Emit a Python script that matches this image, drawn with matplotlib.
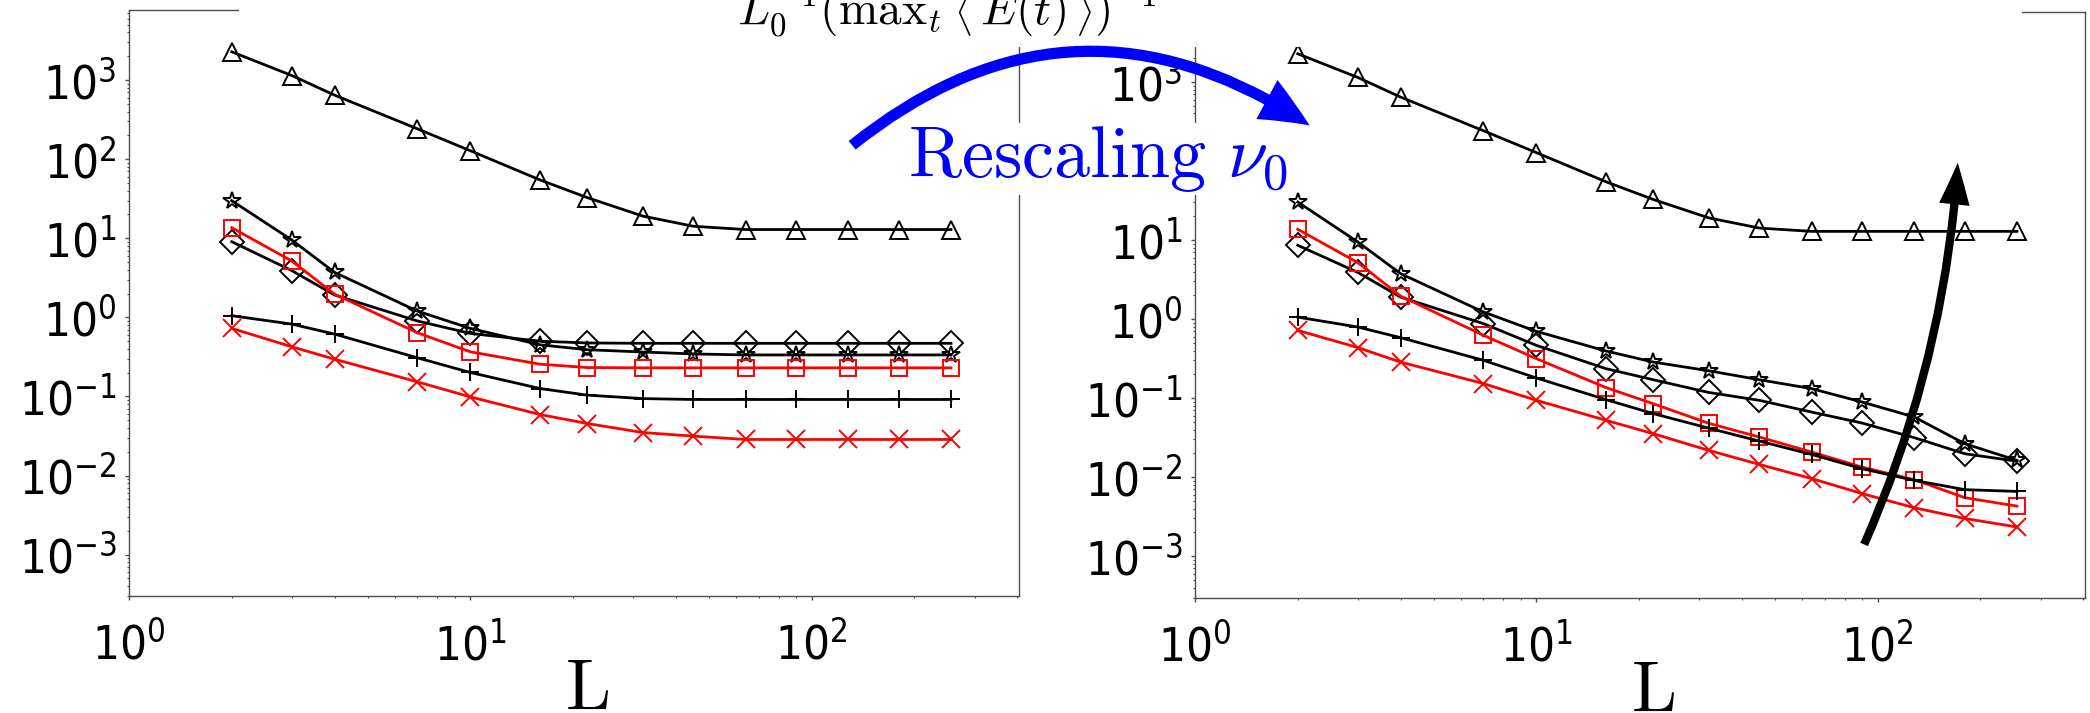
import matplotlib
matplotlib.use("Agg")
import matplotlib.pyplot as plt
from matplotlib.patches import FancyArrowPatch, Rectangle, ArrowStyle
from matplotlib.ticker import LogLocator

plt.rcParams["font.family"] = ["DejaVu Sans Condensed", "DejaVu Sans"]
plt.rcParams["font.stretch"] = "condensed"

# system sizes
L_sizes = [2, 3, 4, 7, 10, 16, 22, 32, 45, 64, 90, 128, 180, 256]

# raw curves
tri_raw = [2280, 1143, 646, 242, 128, 54.7, 32.7, 19.1, 14.2, 12.9, 12.9, 12.9, 12.9, 12.9]
star_raw = [29.9, 9.5, 3.71, 1.20, 0.726, 0.45, 0.39, 0.365, 0.345, 0.335, 0.335, 0.335, 0.335, 0.335]
diam_raw = [9.06, 3.9, 1.92, 0.90, 0.627, 0.50, 0.475, 0.47, 0.47, 0.47, 0.47, 0.47, 0.47, 0.47]
sq_raw = [13.6, 5.16, 1.97, 0.638, 0.367, 0.256, 0.232, 0.230, 0.230, 0.230, 0.230, 0.230, 0.230, 0.230]
plus_raw = [1.05, 0.822, 0.615, 0.308, 0.201, 0.126, 0.104, 0.094, 0.0916, 0.0916, 0.0916, 0.0916, 0.0916, 0.0916]
cross_raw = [0.726, 0.425, 0.296, 0.153, 0.0988, 0.0591, 0.0455, 0.035, 0.0315, 0.0286, 0.0286, 0.0286, 0.0286, 0.0286]

# curves after rescaling nu_0
tri_res = tri_raw
star_res = [30.3, 9.46, 3.77, 1.23, 0.70, 0.395, 0.286, 0.222, 0.171, 0.132, 0.0893, 0.0577, 0.0265, 0.0163]
diam_res = [8.6, 3.9, 1.9, 0.877, 0.466, 0.236, 0.171, 0.118, 0.0938, 0.0667, 0.0484, 0.0316, 0.0198, 0.0159]
sq_res = [13.7, 5.19, 1.96, 0.624, 0.316, 0.136, 0.085, 0.048, 0.0322, 0.0208, 0.0134, 0.0093, 0.0055, 0.0043]
plus_res = [1.06, 0.794, 0.583, 0.301, 0.18, 0.0957, 0.0637, 0.0417, 0.0286, 0.0194, 0.0128, 0.0091, 0.00695, 0.0066]
cross_res = [0.72, 0.436, 0.286, 0.153, 0.0938, 0.0524, 0.0355, 0.0218, 0.0145, 0.0096, 0.0062, 0.0041, 0.0030, 0.00234]

W, H = 2090, 713


def fx(x):
    return x / W


def fy(y):
    return 1 - y / H


def draw_panel(ax, tri, star, diam, sq, plus, cross):
    style = dict(lw=2.0, ms=13, mew=1.4, mfc="none")
    ax.plot(L_sizes, tri, color="k", marker="^", **style)
    ax.plot(L_sizes, star, color="k", marker="*", **style)
    ax.plot(L_sizes, diam, color="k", marker="D", **dict(style, ms=12))
    ax.plot(L_sizes, sq, color="red", marker="s", **dict(style, ms=12))
    ax.plot(L_sizes, plus, color="k", marker="+", **style)
    ax.plot(L_sizes, cross, color="red", marker="x", **style)
    ax.set_xscale("log")
    ax.set_yscale("log")
    ax.set_xlim(1, 405)
    ax.set_ylim(3e-4, 7.7e3)
    ax.yaxis.set_major_locator(LogLocator(base=10, numticks=20))
    ax.yaxis.set_minor_locator(LogLocator(base=10, subs=range(2, 10), numticks=20))
    for sp in ax.spines.values():
        sp.set_color("0.3")
        sp.set_linewidth(1.0)
    ax.tick_params(which="major", length=3, width=1, color="0.3", labelsize=34)
    ax.tick_params(which="minor", length=1.6, width=0.8, color="0.3")
    ax.tick_params(axis="x", which="major", pad=16)
    ax.tick_params(axis="y", which="major", pad=6)
    ax.set_xlabel(r"$\mathrm{L}$", fontsize=52, math_fontfamily="cm")
    ax.xaxis.set_label_coords(0.515, -0.195)
    ax.xaxis.label.set_va("baseline")


fig = plt.figure(figsize=(W / 100, H / 100), dpi=100)
ax_raw = fig.add_axes([fx(129), fy(596), fx(890), 586 / H])
ax_res = fig.add_axes([fx(1195), fy(597.5), fx(890), 585.5 / H])
draw_panel(ax_raw, tri_raw, star_raw, diam_raw, sq_raw, plus_raw, cross_raw)
draw_panel(ax_res, tri_res, star_res, diam_res, sq_res, plus_res, cross_res)

# title band
fig.patches.append(Rectangle((fx(239), fy(47)), fx(2022 - 239), 47 / H + 0.01,
                             transform=fig.transFigure, fc="white", ec="none", zorder=3))
fig.text(fx(737), fy(25),
         r"$L_0^{-1}\left(\mathrm{max}_t\;\left\langle\,E(t)\,\right\rangle\right)^{-1}$",
         fontsize=34, math_fontfamily="cm", ha="left", va="baseline", zorder=4)

fig.text(fx(908), fy(177), r"$\mathrm{Rescaling}\ \nu_0$", fontsize=52, color="blue",
         math_fontfamily="cm", ha="left", va="baseline", zorder=5,
         bbox=dict(fc="white", ec="none", pad=1))

blue_arrow = FancyArrowPatch((fx(850), fy(147)), (fx(1312), fy(127)), transform=fig.transFigure,
                             connectionstyle="arc3,rad=-0.37",
                             arrowstyle=ArrowStyle.Simple(head_length=3.6, head_width=3.2, tail_width=0.8),
                             mutation_scale=10, color="blue", lw=0, zorder=6)
fig.patches.append(blue_arrow)

black_arrow = FancyArrowPatch((fx(1863), fy(547)), (fx(1958), fy(160)), transform=fig.transFigure,
                              connectionstyle="arc3,rad=0.09",
                              arrowstyle=ArrowStyle.Simple(head_length=3.0, head_width=2.2, tail_width=0.6),
                              mutation_scale=10, color="black", lw=0, zorder=6)
fig.patches.append(black_arrow)

fig.savefig("out.png", dpi=100)
